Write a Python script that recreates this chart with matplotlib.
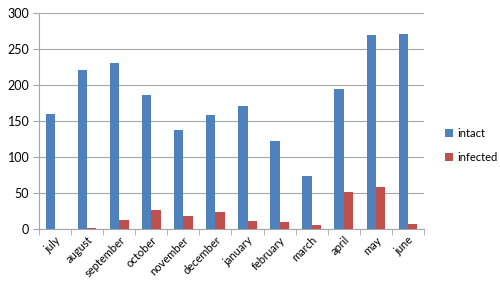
import numpy as np
import matplotlib
matplotlib.use("Agg")
import matplotlib.pyplot as plt

months = ["july", "august", "september", "october", "november", "december",
          "january", "february", "march", "april", "may", "june"]
intact = [160, 221, 231, 186, 138, 158, 171, 122, 73, 194, 270, 271]
infected = [0, 2, 13, 27, 18, 23, 11, 10, 5, 51, 58, 7]

plt.rcParams['font.family'] = ['Lato', 'DejaVu Sans']

fig = plt.figure(figsize=(5, 2.89), dpi=100)
ax = fig.add_axes([0.078, 0.2076, 0.77, 0.7474])

x = np.arange(len(months))
w = 0.29
ax.bar(x - w / 2, intact, w, color="#4F81BD", label="intact", zorder=3)
ax.bar(x + w / 2, infected, w, color="#C0504D", label="infected", zorder=3)

ax.set_xlim(-0.5, len(months) - 0.5)
ax.set_ylim(0, 300)
ax.set_yticks(range(0, 301, 50))
ax.yaxis.grid(True, color="#a6a6a6", linewidth=0.8, zorder=0)

ax.set_xticks(x)
ax.set_xticklabels(months, rotation=45, ha="right", rotation_mode="anchor",
                   fontsize=8)
ax.tick_params(axis="x", length=0, pad=4)
ax.set_xticks(np.arange(-0.5, len(months), 1), minor=True)
ax.tick_params(axis="x", which="minor", length=4, color="#a6a6a6")
ax.tick_params(axis="y", length=4, color="#a6a6a6", labelsize=9, pad=3)

for s in ["top", "right"]:
    ax.spines[s].set_visible(False)
for s in ["left", "bottom"]:
    ax.spines[s].set_color("#a6a6a6")

ax.legend(loc="center left", bbox_to_anchor=(0.87, 0.497),
          bbox_transform=fig.transFigure, frameon=False,
          fontsize=8, handlelength=0.7, handleheight=0.7,
          handletextpad=0.4, labelspacing=1.2)

fig.savefig("out.png", dpi=100)
